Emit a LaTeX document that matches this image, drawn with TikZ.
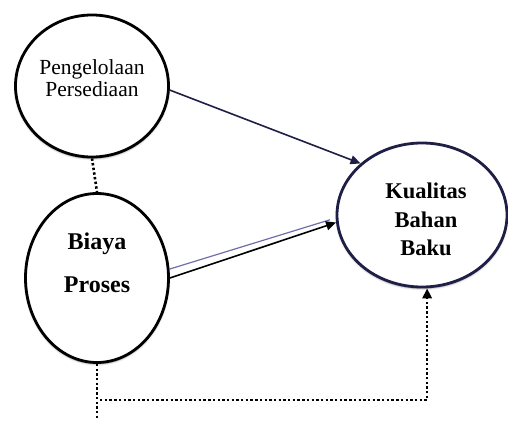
\documentclass[tikz,border=0pt]{standalone}
\usepackage{fontspec}
\setmainfont{Liberation Serif}
\usetikzlibrary{shapes.geometric,arrows.meta,shadows.blur}
\definecolor{navyline}{RGB}{30,30,70}
\definecolor{paleblue}{RGB}{110,110,170}
\tikzset{
    latent var/.style={
        draw,ellipse,line width=2.8pt,
        fill=white,inner sep=0pt,
        blur shadow={shadow xshift=0pt,shadow yshift=-1.5pt,
            shadow blur radius=2pt,shadow opacity=45}
    },
    dotted link/.style={line width=2.6pt,dash pattern=on 2.4pt off 2.3pt},
    >={Triangle[length=10pt,width=9pt]}
}

\begin{document}
\begin{tikzpicture}[x=1pt,y=-1pt]
\useasboundingbox (0,0) rectangle (508,420);
% variables
\node[latent var,minimum width=153pt,minimum height=142pt] (pp) at (92,86)
    {\raisebox{0pt}[0pt][0pt]{\fontsize{21.5}{22}\selectfont
     \begin{tabular}{@{}c@{}}Pengelolaan\\Persediaan\end{tabular}}\hspace{6pt}};
\node[latent var,minimum width=143pt,minimum height=169pt] (bp) at (97,278)
    {\raisebox{9pt}[0pt][0pt]{\fontsize{24}{43}\selectfont\bfseries
     \begin{tabular}{@{}c@{}}Biaya\\Proses\end{tabular}}};
\node[latent var,draw=navyline,minimum width=170pt,minimum height=144pt] (kb) at (422,215)
    {\hspace{8pt}\raisebox{-12pt}[0pt][0pt]{\fontsize{22.5}{28}\selectfont\bfseries
     \begin{tabular}{@{}c@{}}Kualitas\\[1pt]Bahan\\Baku\end{tabular}}};
% paths
\draw[navyline,line width=1.6pt,->] (pp.-3) -- (kb.140);
\draw[paleblue,line width=1.2pt,shorten >=6pt] (bp.7) -- (kb.182);
\draw[black,line width=1.6pt,->] (bp.0) -- (kb.185);
\draw[dotted link] (pp.south) -- (bp.north);
\coordinate (bend) at (100,400);
\coordinate (tail) at (97,420);
\draw[dotted link] (bp.south) -- (tail);
\draw[dotted link,->] (bend) -| (kb.-86);
\end{tikzpicture}
\end{document}
